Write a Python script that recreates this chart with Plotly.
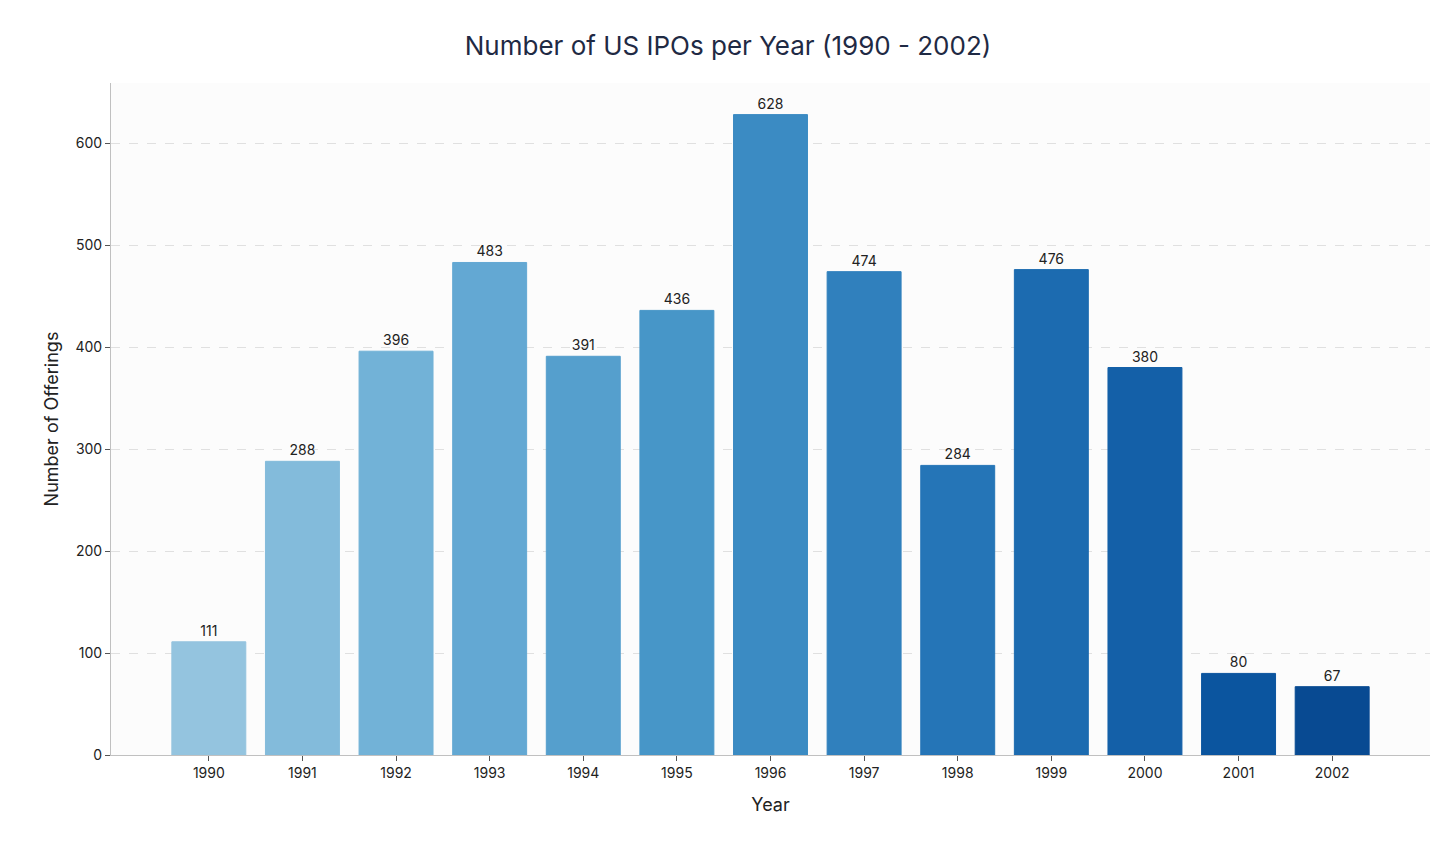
import numpy as np
import plotly.graph_objects as go
from plotly.colors import sample_colorscale

YEARS = ["1990", "1991", "1992", "1993", "1994", "1995", "1996",
         "1997", "1998", "1999", "2000", "2001", "2002"]
IPOS = [111, 288, 396, 483, 391, 436, 628, 474, 284, 476, 380, 80, 67]

colors = sample_colorscale("Blues", list(np.linspace(0.4, 0.9, len(YEARS))))

fig = go.Figure(go.Bar(
    x=YEARS, y=IPOS,
    marker={"color": colors, "line": {"color": colors, "width": 1}},
    width=0.79,
    text=[str(v) for v in IPOS], textposition="outside",
    textfont={"size": 14, "color": "#222222"},
    cliponaxis=False,
))

fig.update_layout(
    title={"text": "Number of US IPOs per Year (1990 - 2002)", "x": 0.5, "y": 0.965,
           "font": {"size": 26, "color": "#1f2a44"}},
    font={"family": "Inter, Lato, sans-serif", "size": 14, "color": "#222222"},
    paper_bgcolor="#ffffff",
    plot_bgcolor="#fcfcfc",
    margin={"l": 103, "r": 18, "t": 75, "b": 86},
    showlegend=False,
    xaxis={
        "title": {"text": "Year", "font": {"size": 18}, "standoff": 18},
        "range": [-1.045, 13.045],
        "showline": True, "linecolor": "#c0c0c0",
        "ticks": "outside", "ticklen": 5, "tickcolor": "#555555",
        "showgrid": False,
    },
    yaxis={
        "title": {"text": "Number of Offerings", "font": {"size": 18}, "standoff": 12},
        "range": [0, 659],
        "dtick": 100,
        "showline": True, "linecolor": "#c0c0c0",
        "ticks": "outside", "ticklen": 5, "tickcolor": "#555555",
        "showgrid": True, "gridcolor": "#e0e0e0", "griddash": "dash",
        "zeroline": False,
    },
)

fig.write_html("out.html")
